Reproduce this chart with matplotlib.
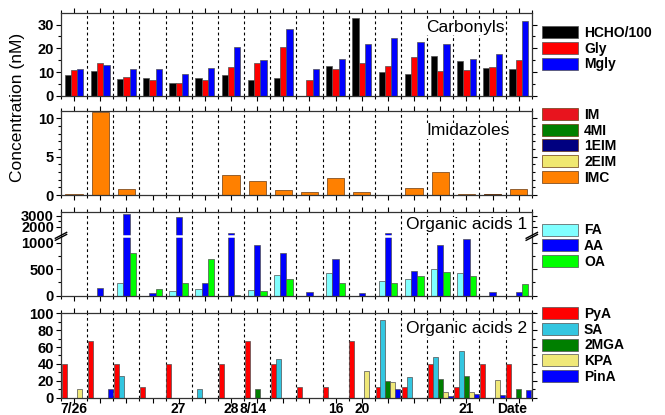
import numpy as np
import matplotlib
matplotlib.use('Agg')
import matplotlib.pyplot as plt

plt.rcParams['font.family'] = ['Liberation Sans', 'DejaVu Sans']
plt.rcParams['font.weight'] = 'bold'

# 18 samples, one group of bars each
n = 18

# Carbonyls (nM)
hcho = [9.0, 10.4, 7.1, 7.4, 5.3, 7.4, 8.8, 6.7, 7.6, 0, 12.6, 32.8, 9.9, 9.4, 16.9, 14.6, 11.8, 11.5]
gly = [11.1, 13.9, 7.9, 6.9, 5.3, 6.9, 12.2, 13.9, 20.6, 6.7, 11.5, 13.9, 12.5, 16.4, 10.6, 11.0, 12.2, 15.0]
mgly = [11.5, 12.9, 11.5, 11.2, 9.4, 11.8, 20.5, 15.0, 28.3, 11.5, 15.4, 21.9, 24.3, 22.6, 21.9, 15.4, 17.8, 31.4]

# Imidazoles (nM)
im = [0] * 18
mi4 = [0] * 18
eim1 = [0] * 16 + [0.08, 0]
eim2 = [0] * 18
imc = [0.2, 10.8, 0.75, 0, 0, 0, 2.6, 1.8, 0.65, 0.45, 2.2, 0.4, 0, 0.9, 3.0, 0.2, 0, 0.75]

# Organic acids 1 (nM)
fa = [0, 0, 233, 0, 88, 120, 0, 107, 384, 0, 428, 0, 283, 308, 503, 428, 0, 0]
aa = [0, 138, 3150, 44, 2910, 245, 1390, 962, 811, 69, 686, 44, 1454, 459, 956, 1076, 69, 69]
oa = [0, 0, 811, 126, 245, 698, 19, 88, 314, 0, 245, 0, 245, 365, 447, 365, 0, 226]

# Organic acids 2 (nM)
pya = [39.5, 67, 39.5, 12.5, 39.5, 0, 39.5, 67, 39.5, 12.5, 12.5, 67, 12.5, 12.5, 39.5, 12.5, 39.5, 39.5]
sa = [0, 0, 25.5, 0, 0, 10.8, 0, 0, 46, 0, 0, 0, 92, 25, 48, 55.4, 0, 0]
mga2 = [0, 0, 0, 0, 0, 0, 0, 10.8, 0, 0, 0, 0, 19.5, 0, 22.7, 25.5, 0, 10]
kpa = [10.4, 0, 0, 0, 0, 0, 0, 0, 0, 0, 0, 32, 18.3, 0, 7.2, 6.4, 20.7, 0]
pina = [0, 10.4, 0, 0, 0, 0, 0, 0, 0, 0, 0, 0, 10.8, 0, 1.6, 4.8, 3.2, 9.6]

date_labels = ['7/26', '27', '28', '8/14', '16', '20', '21']
date_pos = [0, 4, 6, 6.85, 10, 11, 15]

x = np.arange(n)
ec = '#505050'

fig = plt.figure(figsize=(6.65, 4.15), dpi=100)
L, W = 0.0917, 0.708
ax1 = fig.add_axes([L, 0.7687, W, 0.2007])
ax2 = fig.add_axes([L, 0.5300, W, 0.2030])
ax3 = fig.add_axes([L, 0.2875, W, 0.2024])
ax4 = fig.add_axes([L, 0.0417, W, 0.2034])


def base(ax):
    ax.set_xlim(-0.5, n - 0.5)
    for b in np.arange(0.5, n - 1, 1):
        ax.axvline(b, color='k', ls=(0, (2.5, 2.5)), lw=0.8, zorder=1)
    ax.set_xticks(x)
    ax.set_xticks(np.arange(-0.5, n, 1), minor=True)
    ax.tick_params(which='both', direction='out', top=True, right=True,
                   labelbottom=False, width=0.8, labelsize=10.5, pad=1.5)
    ax.tick_params(which='major', length=3.5)
    ax.tick_params(which='minor', length=2)
    for s in ax.spines.values():
        s.set_linewidth(0.9)
        s.set_color('#333333')


def title(ax, txt, xf, yf):
    ax.text(xf, yf, txt, transform=ax.transAxes, ha='center', va='center',
            fontsize=12.5, fontweight='normal', zorder=5,
            bbox=dict(fc='white', ec='none', pad=0.3))


def legend(ax, top):
    ax.legend(loc='upper left', bbox_to_anchor=(1.021, top), frameon=False,
              fontsize=10, handlelength=2.6, handleheight=0.95,
              labelspacing=0.12, handletextpad=0.45, borderpad=0,
              borderaxespad=0)


# Carbonyls
bw = 0.24
base(ax1)
ax1.bar(x - bw, hcho, bw, color='black', ec=ec, lw=0.5, label='HCHO/100', zorder=2)
ax1.bar(x, gly, bw, color='#ff0000', ec=ec, lw=0.5, label='Gly', zorder=2)
ax1.bar(x + bw, mgly, bw, color='#0000ff', ec=ec, lw=0.5, label='Mgly', zorder=2)
ax1.set_ylim(0, 35)
ax1.set_yticks([0, 10, 20, 30])
ax1.set_yticks([5, 15, 25], minor=True)
title(ax1, 'Carbonyls', 0.859, 0.828)
legend(ax1, 0.84)

# Imidazoles, stacked
base(ax2)
bottom = np.zeros(n)
for vals, col, lab in [(im, '#e8141e', 'IM'), (mi4, '#008000', '4MI'),
                       (eim1, '#000080', '1EIM'), (eim2, '#f0e870', '2EIM'),
                       (imc, '#ff8000', 'IMC')]:
    ax2.bar(x, vals, 0.66, bottom=bottom, color=col, ec='#6a3a10', lw=0.5,
            label=lab, zorder=2)
    bottom += np.array(vals)
ax2.set_ylim(0, 11)
ax2.set_yticks([0, 5, 10])
ax2.set_yticks([1, 2, 3, 4, 6, 7, 8, 9], minor=True)
title(ax2, 'Imidazoles', 0.865, 0.763)
legend(ax2, 1.035)

# Organic acids 1, broken y axis (upper part compressed)
BRK, R = 1120, 0.207


def fwd(v):
    v = np.asarray(v, dtype=float)
    return np.where(v <= BRK, v, BRK + (v - BRK) * R)


def inv(f):
    f = np.asarray(f, dtype=float)
    return np.where(f <= BRK, f, BRK + (f - BRK) / R)


base(ax3)
ax3.set_yscale('function', functions=(fwd, inv))
ax3.bar(x - bw, fa, bw, color='#80ffff', ec=ec, lw=0.5, label='FA', zorder=2)
ax3.bar(x, aa, bw, color='#0000ff', ec=ec, lw=0.5, label='AA', zorder=2)
ax3.bar(x + bw, oa, bw, color='#00ff00', ec=ec, lw=0.5, label='OA', zorder=2)
ymax3 = 3370
ax3.set_ylim(0, ymax3)
ax3.set_yticks([0, 500, 1000, 2000, 3000])
ax3.set_yticks([250, 750, 2500], minor=True)
ax3.axhline(BRK, color='white', lw=1.8, zorder=2.5)
yb = float(fwd(BRK) / fwd(ymax3))
for xa in (0, 1):
    for d in (-0.012, 0.012):
        ax3.plot([xa - 0.012, xa + 0.012], [yb + d - 0.035, yb + d + 0.035],
                 transform=ax3.transAxes, color='k', lw=1.0, clip_on=False,
                 zorder=6)
title(ax3, 'Organic acids 1', 0.861, 0.842)
legend(ax3, 0.86)

# Organic acids 2
bw4 = 0.19
base(ax4)
for i, (vals, col, lab) in enumerate([(pya, '#ff0000', 'PyA'), (sa, '#33c6e0', 'SA'),
                                      (mga2, '#007f00', '2MGA'), (kpa, '#f0e878', 'KPA'),
                                      (pina, '#0000ff', 'PinA')]):
    ax4.bar(x + (i - 2) * bw4, vals, bw4, color=col, ec=ec, lw=0.5, label=lab,
            zorder=2)
ax4.set_ylim(0, 100)
ax4.set_yticks(np.arange(0, 101, 20))
ax4.set_yticks(np.arange(10, 100, 20), minor=True)
title(ax4, 'Organic acids 2', 0.861, 0.814)
legend(ax4, 1.075)

for p, lab in zip(date_pos, date_labels):
    ax4.text(p, -0.05, lab, transform=ax4.get_xaxis_transform(), ha='center',
             va='top', fontsize=10)
ax4.text(16.73, -0.05, 'Date', transform=ax4.get_xaxis_transform(),
         ha='center', va='top', fontsize=10)

fig.text(0.027, 1 - 107 / 415, 'Concentration (nM)', rotation=90,
         ha='center', va='center', fontsize=12.5, fontweight='normal')

fig.savefig('out.png', dpi=100)
